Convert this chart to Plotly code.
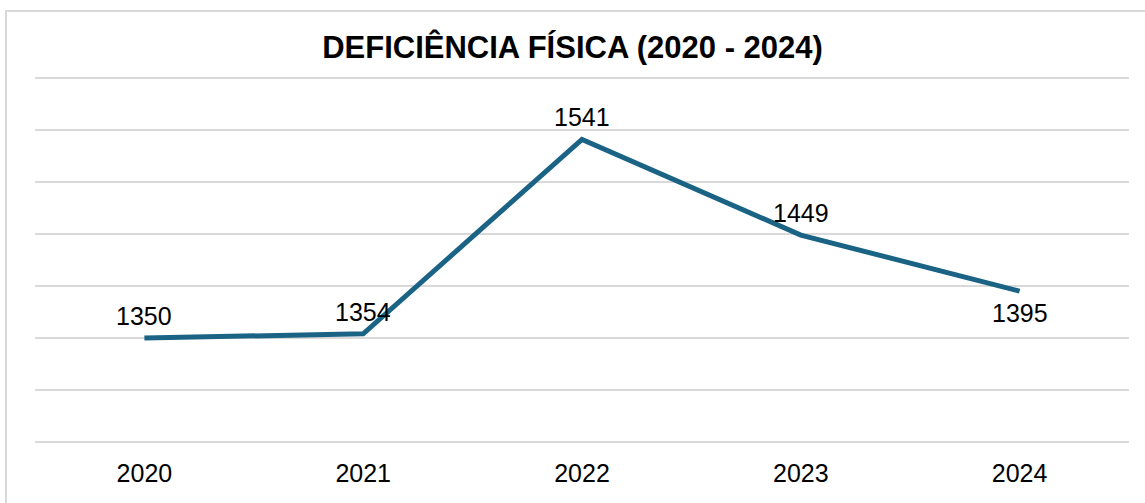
import plotly.graph_objects as go

years = ["2020", "2021", "2022", "2023", "2024"]
values = [1350, 1354, 1541, 1449, 1395]
label_side = [1, 1, 1, 1, -1]  # 1 = above the point, -1 = below

W, H = 1145, 503
ml, mr, mt, mb = 35, 16, 76, 59
pw, ph = W - ml - mr, H - mt - mb
FONT = "Liberation Sans, Arial"

fig = go.Figure()
fig.add_trace(go.Scatter(
    x=years, y=values, mode="lines",
    line=dict(color="#1A6385", width=5),
    cliponaxis=False, hoverinfo="skip", showlegend=False,
))

for i, (v, s) in enumerate(zip(values, label_side)):
    fig.add_annotation(x=i, y=v, text=str(v), showarrow=False,
                       yshift=22 * s, xanchor="center", yanchor="middle",
                       font=dict(family=FONT, size=25, color="#000000"))

def px_x(p):
    return (p - ml) / pw

def px_y(p):
    return (H - mb - p) / ph

fig.add_shape(type="rect", xref="paper", yref="paper",
              x0=px_x(6), x1=px_x(W + 20), y0=px_y(H + 20), y1=px_y(11),
              line=dict(color="#D9D9D9", width=2), fillcolor="rgba(0,0,0,0)", layer="below")

fig.update_layout(
    width=W, height=H,
    margin=dict(l=ml, r=mr, t=mt, b=mb),
    paper_bgcolor="#FFFFFF", plot_bgcolor="#FFFFFF",
    title=dict(text="<b>DEFICIÊNCIA FÍSICA (2020 - 2024)</b>", x=0.5, xanchor="center",
               y=1 - 47 / H, yanchor="middle",
               font=dict(family=FONT, size=31, color="#000000")),
    xaxis=dict(type="category", showgrid=False, showline=False, zeroline=False, ticks="",
               tickfont=dict(family=FONT, size=25, color="#000000"),
               ticklabelstandoff=12, range=[-0.5, 4.5]),
    yaxis=dict(range=[1248, 1602], dtick=50, tick0=1250, showticklabels=False,
               showgrid=True, gridcolor="#D9D9D9", gridwidth=2, zeroline=False,
               showline=False, ticks=""),
)

fig.write_html("out.html", config={"displayModeBar": False},
               post_script="document.body.style.margin='0px';document.body.style.overflow='hidden';")
